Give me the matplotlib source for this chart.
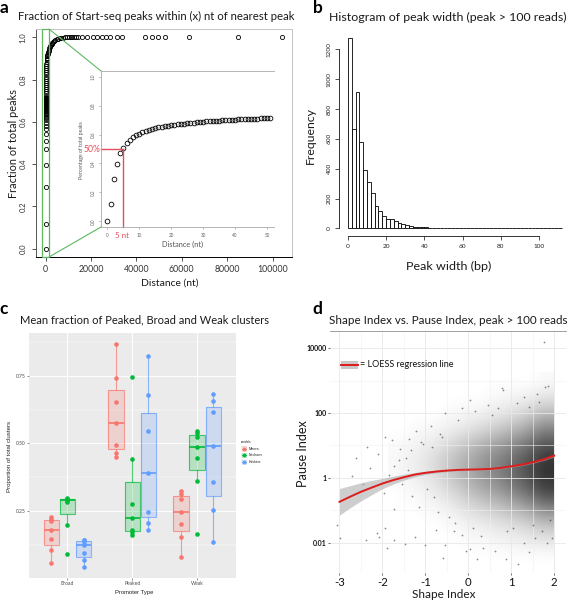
import numpy as np
import matplotlib
matplotlib.use('Agg')
import matplotlib.pyplot as plt
from matplotlib.patches import Rectangle, ConnectionPatch
from matplotlib.colors import LinearSegmentedColormap

W, H = 567, 601
plt.rcParams['font.family'] = ['Lato', 'DejaVu Sans']

# ---------------- panel a: fraction of peaks within distance
near_dist = list(range(52))
near_frac = [0.0, 0.116, 0.293, 0.398, 0.472, 0.51, 0.545, 0.565, 0.58, 0.595,
             0.607, 0.617, 0.625, 0.632, 0.638, 0.644, 0.649, 0.653, 0.657, 0.661,
             0.664, 0.667, 0.67, 0.673, 0.676, 0.678, 0.681, 0.683, 0.685, 0.687,
             0.689, 0.691, 0.693, 0.694, 0.696, 0.697, 0.699, 0.70, 0.701, 0.703,
             0.704, 0.705, 0.706, 0.707, 0.708, 0.709, 0.71, 0.711, 0.712, 0.713,
             0.714, 0.715]
far_dist = [60, 70, 80, 90, 100, 115, 130, 150, 170, 190, 215, 240, 270, 300,
            340, 380, 430, 480, 540, 600, 680, 760, 850, 950, 1060, 1180, 1320,
            1480, 1650, 1850, 2080, 2350, 2650, 3000, 3400, 3850, 4350, 4900,
            5500, 6200, 7000, 7800, 8600, 9400, 10200, 11000, 11800, 12600,
            13400, 14200, 15900, 18400, 20700, 22800, 24700, 26600, 28400,
            31300, 33500, 43800, 46800, 49700, 52700, 63000, 84600, 104000]
far_frac = [0.725, 0.735, 0.745, 0.755, 0.765, 0.775, 0.785, 0.795, 0.805, 0.815,
            0.825, 0.835, 0.845, 0.855, 0.865, 0.875, 0.885, 0.893, 0.90, 0.905,
            0.91, 0.914, 0.918, 0.922, 0.926, 0.93, 0.935, 0.94, 0.948, 0.955,
            0.96, 0.965, 0.97, 0.975, 0.98, 0.984, 0.988, 0.991, 0.994, 0.996,
            0.998, 0.999, 1.0, 1.0, 1.0, 1.0, 1.0, 1.0, 1.0, 1.0, 1.0, 1.0, 1.0,
            1.0, 1.0, 1.0, 1.0, 1.0, 1.0, 1.0, 1.0, 1.0, 1.0, 1.0, 1.0, 1.0]

# ---------------- panel b: histogram of peak width (bins of 2 bp)
bin_left = list(range(0, 112, 2))
bin_count = [1278, 665, 915, 582, 392, 309, 235, 150, 117, 82, 63, 60, 48, 37,
             29, 22, 16, 12, 9, 8, 6, 5, 4, 4, 3, 2, 2, 2, 1, 4, 1, 1, 1, 0, 0,
             0, 0, 0, 0, 0, 0, 0, 0, 0, 0, 0, 0, 0, 0, 0, 0, 0, 0, 0, 0, 1]

# ---------------- panel c: cluster fractions per promoter type
promoter_types = ['Broad', 'Peaked', 'Weak']
datasets = ['Meers', 'Nechaev', 'Hoskins']
meers_frac = [[0.229, 0.222, 0.213, 0.180, 0.145, 0.106, 0.059],
              [0.866, 0.742, 0.654, 0.574, 0.494, 0.463, 0.448],
              [0.324, 0.313, 0.295, 0.2475, 0.202, 0.153, 0.079]]
nechaev_frac = [[0.298, 0.295, 0.291, 0.289, 0.282, 0.198, 0.091],
                [0.746, 0.441, 0.276, 0.223, 0.180, 0.171, 0.161],
                [0.5466, 0.539, 0.5244, 0.485, 0.4446, 0.362, 0.165]]
hoskins_frac = [[0.143, 0.141, 0.136, 0.124, 0.093, 0.069, 0.042],
                [0.8235, 0.678, 0.5466, 0.389, 0.2475, 0.2045, 0.180],
                [0.682, 0.657, 0.6145, 0.490, 0.358, 0.2537, 0.1355]]
ds_colors = ['#F8766D', '#00BA38', '#619CFF']

# ---------------- panel d: shape index vs pause index
loess_shape = [-3, -2.75, -2.5, -2.25, -2, -1.75, -1.5, -1.25, -1, -0.75, -0.5,
               -0.25, 0, 0.25, 0.5, 0.75, 1, 1.25, 1.5, 1.75, 2]
loess_log10 = [-0.74, -0.58, -0.43, -0.30, -0.175, -0.07, 0.02, 0.10, 0.155,
               0.195, 0.225, 0.245, 0.255, 0.262, 0.275, 0.305, 0.357, 0.41,
               0.48, 0.57, 0.686]
loess_se = [0.41, 0.34, 0.28, 0.22, 0.16, 0.12, 0.09, 0.065, 0.05, 0.04, 0.035,
            0.03, 0.028, 0.026, 0.026, 0.026, 0.028, 0.03, 0.033, 0.038, 0.045]
# point-cloud darkness, on a coarse grid
dens_shape = [-1.75, -1.5, -1.25, -1.0, -0.75, -0.5, -0.25, 0.0, 0.25, 0.5,
              0.75, 1.0, 1.25, 1.5, 1.75, 2.0]
dens_log10 = [-2.5, -2.0, -1.5, -1.0, -0.5, 0.0, 0.5, 1.0, 1.5, 2.0, 2.5, 3.0]
dens_level = [
    [0, 0, 0, 0, 0, 0, 0, 0, 0, 0, 0, 0, 0, 0, 0, 0],
    [0, 0, 0, 0, 0, 0, 0, .02, .02, .03, .04, .05, .06, .07, .08, .08],
    [0, 0, 0, 0, 0, .02, .03, .05, .06, .08, .10, .12, .14, .18, .22, .22],
    [0, 0, 0, .02, .03, .05, .08, .12, .15, .18, .21, .26, .30, .36, .44, .44],
    [0, .02, .03, .05, .08, .12, .17, .23, .28, .33, .38, .45, .52, .60, .70, .70],
    [.02, .04, .06, .09, .13, .20, .26, .32, .38, .44, .50, .57, .64, .72, .80, .80],
    [.03, .05, .07, .11, .16, .22, .28, .34, .40, .46, .52, .58, .65, .72, .80, .80],
    [.02, .03, .05, .07, .10, .15, .19, .25, .30, .35, .40, .46, .52, .60, .68, .68],
    [0, 0, .02, .03, .04, .06, .08, .11, .14, .18, .22, .27, .32, .40, .48, .48],
    [0, 0, 0, 0, 0, .02, .03, .04, .05, .07, .09, .12, .15, .20, .26, .26],
    [0, 0, 0, 0, 0, 0, 0, 0, 0, .02, .03, .04, .05, .07, .10, .10],
    [0, 0, 0, 0, 0, 0, 0, 0, 0, 0, 0, 0, 0, 0, .02, .02]]
sparse_shape = [1.76, 0.78, 0.80, 1.86, 1.78, 0.04, -2.36, -2.70, -2.10, -1.95,
                -1.77, -1.72, -1.97, -1.72, -3.05, -2.99, -2.38, -2.13, -2.07,
                -1.94, -1.90, -1.72, -1.48, -1.25, -1.00, -0.74, -0.55, -0.59,
                -0.34, -0.14, -0.06, 0.04, 0.20, 0.35, 0.63, 0.88, 1.17, 1.29,
                1.41, 1.56, 1.72, 1.84, 1.94, -1.45, -1.40, -1.21, -1.10, -0.86,
                -0.66, -0.55, -0.23, -0.15, 0.16, 0.45, 0.55, 0.70, 1.13, 1.29,
                1.41, 1.60, 1.64, -2.62, -2.45, -1.60, -1.33, -1.05, -0.95, -0.80,
                -1.30, -1.15, -0.70, -0.45, -2.30, -1.85, -1.55, -0.30, 0.10,
                0.90, 1.50, 1.90, -1.62, -1.38, -0.85, -0.62, 0.30, 1.05]
sparse_log10 = [4.20, 2.77, 2.70, 2.82, 2.80, 2.39, 0.95, 0.05, 0.75, 1.26,
                1.18, 0.36, -0.46, -0.97, -1.44, -1.85, -1.93, -1.69, -1.82,
                -1.56, -2.17, -1.93, -2.05, -1.82, -2.08, -1.61, -2.08, -2.46,
                -1.64, -1.76, -2.26, -2.20, -2.51, -2.15, -2.26, -2.51, -2.67,
                -2.00, -2.29, -1.85, -1.64, -2.00, -1.87, 0.62, 0.25, 1.44, 1.10,
                1.59, 1.35, 2.00, 1.79, 2.15, 2.05, 2.26, 1.95, 2.15, 2.31, 2.51,
                2.20, 2.60, 2.35, 0.60, -0.20, 0.90, 0.85, 1.05, -0.35, -0.60,
                -0.55, -0.90, -1.05, -1.20, 0.30, 0.10, -0.20, -1.40, -1.55,
                -1.65, -1.45, -1.30, 0.55, 1.20, 0.95, 1.25, -1.80, -1.55]

fig = plt.figure(figsize=(W / 100, H / 100), dpi=100)


def add_box(l, t, r, b, **kw):
    return fig.add_axes([l / W, 1 - b / H, (r - l) / W, (b - t) / H], **kw)


def put(x, y, s, **kw):
    return fig.text(x / W, 1 - y / H, s, **kw)


def fit(t, length):
    r = fig.canvas.get_renderer()
    bb = t.get_window_extent(r)
    t.set_fontsize(t.get_fontsize() * length / max(bb.width, bb.height))


# ================= panel a =================
green = '#5fb760'
ax = add_box(36, 29, 292.5, 257)
ax.plot(near_dist + far_dist, near_frac + far_frac, 'o', ls='none', ms=3,
        mfc='none', mec='black', mew=0.6)
ax.set_xlim(-4200, 108800)
ax.set_ylim(-0.04, 1.04)
ax.set_xticks(range(0, 100001, 20000))
ax.set_yticks([0, 0.2, 0.4, 0.6, 0.8, 1.0])
ax.set_yticklabels(['0.0', '0.2', '0.4', '0.6', '0.8', '1.0'], rotation=90,
                   va='center')
ax.tick_params(length=3, width=0.6, color='#333', labelcolor='#333', pad=3)
ax.tick_params(axis='x', labelsize=6.3)
ax.tick_params(axis='y', labelsize=5.5, pad=4)
for s in ['top', 'right']:
    ax.spines[s].set_color('#c4c4c4')
ax.spines['left'].set_color('#555')
ax.spines['bottom'].set_color('black')
for s in ax.spines.values():
    s.set_linewidth(0.7)
ax.add_patch(Rectangle((-1540, -0.04), 3080, 1.08, fill=False, ec=green,
                       lw=0.9, clip_on=False, zorder=4))

ax_in = add_box(101, 71, 274, 227)
ax_in.plot(near_dist, near_frac, 'o', ls='none', ms=3.4, mfc='none',
           mec='black', mew=0.6)
ax_in.set_xlim(-2.0, 52.2)
ax_in.set_ylim(-0.04, 1.04)
ax_in.set_xticks(range(0, 51, 10))
ax_in.set_yticks([0, 0.2, 0.4, 0.6, 0.8, 1.0])
ax_in.set_yticklabels(['0.0', '0.2', '0.4', '0.6', '0.8', '1.0'], rotation=90,
                      va='center')
ax_in.tick_params(length=1.5, width=0.5, color='#999', labelcolor='#666',
                  labelsize=3.3, pad=2.5)
ax_in.spines['right'].set_visible(False)
for s in ['left', 'top', 'bottom']:
    ax_in.spines[s].set_color('#a8a8a8')
    ax_in.spines[s].set_linewidth(0.6)
red_a = '#e2505c'
ax_in.plot([-2.0, 5], [0.5, 0.5], color=red_a, lw=1.0, clip_on=False)
ax_in.plot([5, 5], [0.5, -0.04], color=red_a, lw=1.0, clip_on=False)
for xa, xb in [((1540, 1.04), (0, 1)), ((1540, -0.04), (0, 0))]:
    fig.add_artist(ConnectionPatch(xyA=xa, coordsA=ax.transData, xyB=xb,
                                   coordsB=ax_in.transAxes, color=green,
                                   lw=0.8))

t = put(100, 149.5, '50%', color=red_a, ha='right', va='center')
fit(t, 17)
t = put(115, 236, '5 nt', color=red_a, ha='left', va='center')
fit(t, 14)
t = put(183, 244.5, 'Distance (nt)', color='#555', ha='center', va='center')
fit(t, 41)
t = put(81.7, 150, 'Percentage of total peaks', color='#555', ha='center',
        va='center', rotation=90)
fit(t, 57)

t = put(18, 16, 'Fraction of Start-seq peaks within (x) nt of nearest peak',
        ha='left', va='center', color='#1a1a1a')
fit(t, 277)
t = put(13.3, 143, 'Fraction of total peaks', rotation=90, ha='center',
        va='center', color='#1a1a1a')
fit(t, 109)
t = put(169.5, 283, 'Distance (nt)', ha='center', va='center', color='#1a1a1a')
fit(t, 58)

# ================= panel b =================
bx = add_box(339.3, 29.8, 570.7, 236)
bx.bar(bin_left, bin_count, width=2, align='edge', color='white',
       edgecolor='black', lw=0.6)
bx.set_xlim(-4.48, 116.48)
bx.set_ylim(-51.2, 1331)
bx.set_xticks(range(0, 101, 20))
bx.set_yticks(range(0, 1201, 200))
bx.set_yticklabels([str(v) for v in range(0, 1201, 200)], rotation=90,
                   va='center')
bx.spines['top'].set_visible(False)
bx.spines['right'].set_visible(False)
bx.spines['left'].set_bounds(0, 1200)
bx.spines['bottom'].set_bounds(0, 100)
for s in ['left', 'bottom']:
    bx.spines[s].set_color('#333')
    bx.spines[s].set_linewidth(0.7)
bx.tick_params(length=3, width=0.6, color='#333', labelcolor='#222',
               labelsize=4.6, pad=2.5)
bx.patch.set_alpha(0)

t = put(329.3, 17, 'Histogram of peak width (peak > 100 reads)', ha='left',
        va='center', color='#1a1a1a')
fit(t, 237.5)
t = put(310, 135, 'Frequency', rotation=90, ha='center', va='center',
        color='#1a1a1a')
fit(t, 57)
t = put(449, 266.7, 'Peak width (bp)', ha='center', va='center',
        color='#1a1a1a')
fit(t, 85)

# ================= panel c =================
cx = add_box(28.5, 333.3, 236, 578.3)
cx.set_facecolor('#EBEBEB')
cx.set_xlim(0.4, 3.6)
cx.set_ylim(0.001, 0.907)
cx.set_yticks([0.25, 0.5, 0.75])
cx.set_yticklabels(['0.25', '0.50', '0.75'])
cx.set_yticks([0.125, 0.375, 0.625, 0.875], minor=True)
cx.set_xticks([1, 2, 3])
cx.set_xticklabels(promoter_types)
cx.grid(True, which='major', color='white', lw=0.7)
cx.grid(True, which='minor', axis='y', color='white', lw=0.35)
cx.set_axisbelow(True)
for s in cx.spines.values():
    s.set_visible(False)
cx.tick_params(which='major', length=1.3, width=0.4, color='#333',
               labelcolor='#4D4D4D', labelsize=3.6, pad=0.8)
cx.tick_params(which='minor', length=0)
for j, vals in enumerate([meers_frac, nechaev_frac, hoskins_frac]):
    col = ds_colors[j]
    pos = [i + 1 + (j - 1) * 0.25 for i in range(3)]
    cx.boxplot(vals, positions=pos, widths=0.235, patch_artist=True,
               showfliers=False, whis=1.5, manage_ticks=False,
               boxprops=dict(facecolor=col, alpha=0.22, lw=0),
               medianprops=dict(color='none'),
               whiskerprops=dict(color='none'), capprops=dict(color='none'))
    cx.boxplot(vals, positions=pos, widths=0.235, patch_artist=True,
               showfliers=False, whis=1.5, manage_ticks=False,
               boxprops=dict(facecolor='none', edgecolor=col, lw=0.8,
                             alpha=0.7),
               medianprops=dict(color=col, lw=1.2),
               whiskerprops=dict(color=col, lw=0.8, alpha=0.7),
               capprops=dict(color='none'))
    for p, v in zip(pos, vals):
        cx.plot([p] * len(v), v, 'o', ls='none', ms=3.3, color=col,
                mew=0, zorder=5)

t = put(20, 319.5, 'Mean fraction of Peaked, Broad and Weak clusters',
        ha='left', va='center', color='#1a1a1a')
fit(t, 249)
t = put(10, 456, 'Proportion of total clusters', rotation=90, ha='center',
        va='center', family='Liberation Sans', color='#222')
fit(t, 72)
t = put(134.5, 592.7, 'Promoter Type', ha='center', va='center',
        family='Liberation Sans', color='#222')
fit(t, 39)

# overlay in pixel space for the hand-placed legend keys
ov = fig.add_axes([0, 0, 1, 1], zorder=10)
ov.set_xlim(0, W)
ov.set_ylim(H, 0)
ov.axis('off')
t = put(241.3, 441.7, 'variable', ha='left', va='center',
        family='Liberation Sans', color='#222')
fit(t, 10.5)
for j, name in enumerate(datasets):
    yk = 448.5 + j * 6.7
    col = ds_colors[j]
    ov.add_patch(Rectangle((241.4, yk - 2.6), 5.4, 5.2, fc='#f2f2f2',
                           ec='none'))
    ov.add_patch(Rectangle((241.8, yk - 2.2), 4.6, 4.4, fc=col, alpha=0.25,
                           ec=col, lw=0.5))
    ov.plot([241.8, 246.4], [yk, yk], color=col, lw=0.6)
    ov.plot([244.1], [yk], 'o', ms=2.6, color=col, mew=0)
    t = put(248.6, yk, name, ha='left', va='center', family='Liberation Sans',
            color='#222')
    fit(t, [10.8, 13.8, 12.5][j])

# ================= panel d =================
d_l, d_t, d_r, d_b = 330, 330.7, 566, 573
xlo, xhi = -3.221, 2.277
ylo, yhi = -2.935, 4.54

# back layer in log10 units: grid and point-cloud shading
dg = add_box(d_l, d_t, d_r, d_b, zorder=1)
dg.set_xlim(xlo, xhi)
dg.set_ylim(ylo, yhi)
dg.set_xticks([-3, -2, -1, 0, 1, 2])
dg.set_xticks([-2.5, -1.5, -0.5, 0.5, 1.5], minor=True)
dg.set_yticks([-2, 0, 2, 4])
dg.set_yticks([-1, 1, 3], minor=True)
dg.grid(True, which='major', color='#e8e8e8', lw=0.6)
dg.grid(True, which='minor', color='#f1f1f1', lw=0.4)
dg.tick_params(which='both', length=0, labelbottom=False, labelleft=False)
for s in dg.spines.values():
    s.set_visible(False)
dg.set_axisbelow(True)
kcmap = LinearSegmentedColormap.from_list('kalpha', [(0, 0, 0, 0),
                                                     (0, 0, 0, 1)])
sx = (dens_shape[1] - dens_shape[0]) / 2
sy = (dens_log10[1] - dens_log10[0]) / 2
im = dg.imshow(dens_level, origin='lower', aspect='auto', cmap=kcmap,
               vmin=0, vmax=1, interpolation='bicubic',
               extent=[dens_shape[0] - sx, dens_shape[-1] + sx,
                       dens_log10[0] - sy, dens_log10[-1] + sy])
im.set_clip_path(Rectangle((xlo, ylo), 1.98 - xlo, yhi - ylo,
                           transform=dg.transData))

dx = add_box(d_l, d_t, d_r, d_b, zorder=2)
dx.patch.set_alpha(0)
dx.set_yscale('log')
dx.set_xlim(xlo, xhi)
dx.set_ylim(10 ** ylo, 10 ** yhi)
dx.set_xticks([-3, -2, -1, 0, 1, 2])
dx.set_xticklabels(['-3', '-2', '-1', '0', '1', '2'])
dx.set_yticks([1e-2, 1, 1e2, 1e4])
dx.set_yticklabels(['0.01', '1', '100', '10000'])
dx.yaxis.set_minor_locator(matplotlib.ticker.NullLocator())
for s in ['left', 'right', 'bottom']:
    dx.spines[s].set_visible(False)
dx.spines['top'].set_color('#a0a0a0')
dx.spines['top'].set_linewidth(0.7)
dx.tick_params(axis='y', length=1.5, width=0.5, color='#333', labelsize=5,
               pad=1, labelcolor='#111')
dx.tick_params(axis='x', length=1.5, width=0.5, color='#333', labelsize=8.2,
               pad=1.5, labelcolor='#111')
for lab in dx.get_yticklabels():
    lab.set_fontweight('bold')

dx.scatter(sparse_shape, [10 ** v for v in sparse_log10], s=1.6, c='black',
           alpha=0.45, lw=0, zorder=2)
lo = [c - e for c, e in zip(loess_log10, loess_se)]
hi = [c + e for c, e in zip(loess_log10, loess_se)]
dx.fill_between(loess_shape, [10 ** v for v in lo], [10 ** v for v in hi],
                color='#a6a6a6', alpha=0.55, lw=0, zorder=3)
dx.plot(loess_shape, [10 ** v for v in loess_log10], color='#dd1c1c', lw=1.4,
        zorder=4)

ov.add_patch(Rectangle((340.7, 360.5), 17.6, 8.8, fc='#c8c8c8', ec='none'))
ov.plot([340.7, 358.3], [364.5, 364.5], color='#dd1c1c', lw=1.4)
t = put(359.6, 364.5, '= LOESS regression line', ha='left', va='center',
        color='#111')
fit(t, 93)

t = put(329.3, 321, 'Shape Index vs. Pause Index, peak > 100 reads',
        ha='left', va='center', color='#1a1a1a')
fit(t, 237)
t = put(303, 453.7, 'Pause Index', rotation=90, ha='center', va='center',
        color='#1a1a1a')
fit(t, 67)
t = put(443.3, 595, 'Shape Index', ha='center', va='center', color='#1a1a1a')
fit(t, 63.3)

# panel letters
for x, y, s in [(4, 8, 'a'), (317.5, 8, 'b'), (4, 309.5, 'c'),
                (317.5, 309.5, 'd')]:
    put(x, y, s, ha='center', va='center', fontsize=12.5, fontweight='bold')

fig.savefig('out.png', dpi=100)
